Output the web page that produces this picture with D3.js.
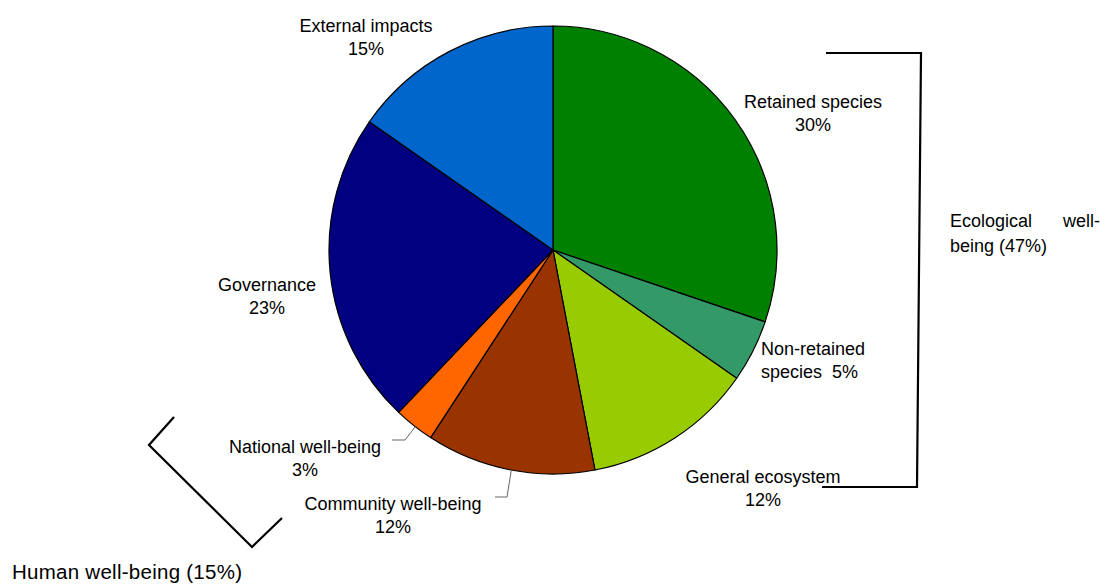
<!DOCTYPE html>
<html>
<head>
<meta charset="utf-8">
<script src="https://cdn.jsdelivr.net/npm/d3@7"></script>
<style>
  html, body { margin: 0; padding: 0; background: #fff; }
  svg { display: block; }
  text { font-family: "Liberation Sans", Arial, sans-serif; fill: #000; }
</style>
</head>
<body>
<svg id="chart" width="1101" height="584"></svg>
<script>
// ---- data ----
const categories = ["Retained species", "Non-retained species", "General ecosystem",
  "Community well-being", "National well-being", "Governance", "External impacts"];
const shares = [30.2, 4.5, 12.3, 12.2, 2.9, 22.6, 15.3];
const shareLabels = ["30%", "5%", "12%", "12%", "3%", "23%", "15%"];
const colors = ["#008000", "#339966", "#99CC00", "#993300", "#FF6600", "#000080", "#0066CC"];
const groupLabels = ["Ecological well-being (47%)", "Human well-being (15%)"];

// ---- layout ----
const W = 1101, H = 584;
const cx = 553, cy = 250, R = 224;
const fontSize = 18;

const svg = d3.select("#chart");
const g = svg.append("g").attr("transform", `translate(${cx},${cy})`);

const pie = d3.pie().sort(null).value(d => d.v).startAngle(0).endAngle(2 * Math.PI);
const arc = d3.arc().innerRadius(0).outerRadius(R);
const data = categories.map((c, i) => ({ c, v: shares[i], lab: shareLabels[i], col: colors[i] }));
const arcs = pie(data);

g.selectAll("path.slice").data(arcs).enter().append("path")
  .attr("class", "slice")
  .attr("d", arc)
  .attr("fill", d => d.data.col)
  .attr("stroke", "#000")
  .attr("stroke-width", 1.2)
  .attr("stroke-linejoin", "round");

// label placement (absolute page coords, separate from data)
const labelPos = {
  "Retained species":     { x: 813, y: 108, anchor: "middle", lines: d => ["Retained species", d.lab] },
  "Non-retained species": { x: 761, y: 355, anchor: "start",  lines: d => ["Non-retained", "species\u00a0\u00a0" + d.lab] },
  "General ecosystem":    { x: 763, y: 483, anchor: "middle", lines: d => ["General ecosystem", d.lab] },
  "Community well-being": { x: 393, y: 510, anchor: "middle", lines: d => ["Community well-being", d.lab] },
  "National well-being":  { x: 305, y: 453, anchor: "middle", lines: d => ["National well-being", d.lab] },
  "Governance":           { x: 267, y: 291, anchor: "middle", lines: d => ["Governance", d.lab] },
  "External impacts":     { x: 366, y: 32,  anchor: "middle", lines: d => ["External impacts", d.lab] }
};
const lineGap = 22.5;

arcs.forEach(a => {
  const p = labelPos[a.data.c];
  const t = svg.append("text")
    .attr("x", p.x).attr("y", p.y)
    .attr("text-anchor", p.anchor)
    .style("font-size", fontSize + "px");
  p.lines(a.data).forEach((ln, i) => {
    t.append("tspan").attr("x", p.x).attr("y", p.y + i * lineGap).text(ln);
  });
});

// leader lines for small outer labels (start at slice's outer arc)
function edgePoint(a, frac) {
  const ang = a.startAngle + (a.endAngle - a.startAngle) * frac;
  return [cx + R * Math.sin(ang), cy - R * Math.cos(ang)];
}
const leaders = [
  { c: "National well-being", frac: 0.46, pts: [[405, 440], [392, 440]] },
  { c: "Community well-being", frac: 0.49, pts: [[507, 497], [495, 497]] }
];
leaders.forEach(l => {
  const a = arcs.find(d => d.data.c === l.c);
  const p0 = edgePoint(a, l.frac);
  svg.append("path")
    .attr("d", d3.line()([p0, ...l.pts]))
    .attr("fill", "none").attr("stroke", "#666").attr("stroke-width", 1);
});

// group brackets
svg.append("path")
  .attr("d", d3.line()([[826, 53], [921, 53], [917, 487], [822, 487]]))
  .attr("fill", "none").attr("stroke", "#000").attr("stroke-width", 2.2);
svg.append("path")
  .attr("d", d3.line()([[174, 417], [149, 445], [252, 547], [282, 518]]))
  .attr("fill", "none").attr("stroke", "#000").attr("stroke-width", 2.2);

// group labels
const eco = svg.append("text").style("font-size", fontSize + "px");
eco.append("tspan").attr("x", 950).attr("y", 227).text("Ecological");
eco.append("tspan").attr("x", 1100).attr("y", 227).attr("text-anchor", "end").text("well-");
eco.append("tspan").attr("x", 950).attr("y", 252).text("being (47%)");

svg.append("text").attr("x", 12).attr("y", 579)
  .style("font-size", "20.5px")
  .attr("textLength", 230)
  .attr("lengthAdjust", "spacing")
  .text(groupLabels[1]);
</script>
</body>
</html>
